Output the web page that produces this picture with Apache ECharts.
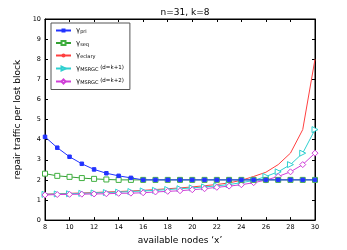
<!DOCTYPE html>
<html><head><meta charset="utf-8">
<script src="https://cdn.jsdelivr.net/npm/echarts@6/dist/echarts.min.js"></script>
<style>html,body{margin:0;padding:0;background:#fff}#c{width:347px;height:250px}</style>
</head><body><div id="c"></div>
<script>
var xs = [8,9,10,11,12,13,14,15,16,17,18,19,20,21,22,23,24,25,26,27,28,29,30];
var pri = [4.14,3.6,3.15,2.8,2.52,2.33,2.2,2.1,2,2,2,2,2,2,2,2,2,2,2,2,2,2,2];
var seq = [2.31,2.2,2.15,2.09,2.05,2.02,2.0,2.0,2,2,2,2,2,2,2,2,2,2,2,2,2,2,2];
var eclary = [1.29,1.31,1.33,1.35,1.37,1.4,1.42,1.45,1.48,1.52,1.56,1.6,1.65,1.71,1.77,1.85,1.98,2.17,2.38,2.76,3.33,4.5,8.0];
var msrgc1 = [1.28,1.3,1.31,1.33,1.35,1.37,1.39,1.42,1.45,1.48,1.52,1.56,1.6,1.65,1.7,1.77,1.86,1.97,2.17,2.4,2.76,3.33,4.5];
var msrgc2 = [1.25,1.27,1.28,1.29,1.3,1.31,1.33,1.34,1.36,1.4,1.43,1.46,1.51,1.56,1.63,1.69,1.76,1.86,1.99,2.17,2.4,2.76,3.33];
var names = ['pri','seq','eclary','msrgc1','msrgc2'];
var labels = {
  pri: '{g|γ}{s|pri}',
  seq: '{g|γ}{s|seq}',
  eclary: '{g|γ}{s|eclary}',
  msrgc1: '{g|γ}{s|MSRGC}{t| (d=k+1)}',
  msrgc2: '{g|γ}{s|MSRGC}{t| (d=k+2)}'
};
function pts(a){ return xs.map(function(x,i){return [x,a[i]];}); }
var font = 'DejaVu Sans';
var chart = echarts.init(document.getElementById('c'));
var axisCommon = {
  axisLine:{show:true,onZero:false,lineStyle:{color:'#000',width:1}},
  axisTick:{show:true,inside:true,length:3,lineStyle:{color:'#000'}},
  splitLine:{show:false}
};
chart.setOption({
  animation:false,
  title:{text:'n=31, k=8',left:180,top:3,textAlign:'center',textStyle:{fontFamily:font,fontSize:9,fontWeight:'normal',color:'#000'}},
  grid:{left:45,right:32,top:19,bottom:28,show:true,borderColor:'#000',borderWidth:1},
  legend:{
    orient:'vertical',left:51,top:23,
    itemWidth:15,itemHeight:5,itemGap:5,
    padding:[4,6,4,4],
    borderColor:'#555',borderWidth:1,backgroundColor:'#fff',
    data:names,
    formatter:function(n){return labels[n];},
    textStyle:{fontFamily:font,fontSize:6,color:'#000',
      rich:{g:{fontSize:7,fontFamily:font},s:{fontSize:5,fontFamily:font,padding:[3,0,0,0]},t:{fontSize:5.5,fontFamily:font,padding:[0,0,2,0]}}}
  },
  xAxis:[Object.assign({type:'value',min:8,max:30,interval:2,position:'bottom',
    name:"available nodes ‘x’",nameLocation:'middle',nameGap:14,
    nameTextStyle:{fontFamily:font,fontSize:9,color:'#000'},
    axisLabel:{fontFamily:font,fontSize:6.5,color:'#000',margin:4}},axisCommon),
    Object.assign({type:'value',min:8,max:30,interval:2,position:'top',axisLabel:{show:false}},axisCommon)],
  yAxis:[Object.assign({type:'value',min:0,max:10,interval:1,position:'left',
    name:'repair traffic per lost block',nameLocation:'middle',nameGap:12,
    nameTextStyle:{fontFamily:font,fontSize:9,color:'#000'},
    axisLabel:{fontFamily:font,fontSize:6.5,color:'#000',margin:4}},axisCommon),
    Object.assign({type:'value',min:0,max:10,interval:1,position:'right',axisLabel:{show:false}},axisCommon)],
  series:[
    {name:'eclary',type:'line',data:pts(eclary),showSymbol:false,symbol:'none',lineStyle:{color:'#ff4040',width:1},itemStyle:{color:'#ff4040'},z:2},
    {name:'msrgc1',type:'line',data:pts(msrgc1),symbol:'triangle',symbolRotate:-90,symbolSize:6,lineStyle:{color:'#30d0d0',width:1},itemStyle:{color:'#fff',borderColor:'#30d0d0',borderWidth:1},z:3},
    {name:'msrgc2',type:'line',data:pts(msrgc2),symbol:'diamond',symbolSize:6,lineStyle:{color:'#d040d8',width:1},itemStyle:{color:'#fff',borderColor:'#d040d8',borderWidth:1},z:4},
    {name:'seq',type:'line',data:pts(seq),symbol:'rect',symbolSize:5,lineStyle:{color:'#33a033',width:1},itemStyle:{color:'#fff',borderColor:'#40b040',borderWidth:1},z:5},
    {name:'pri',type:'line',data:pts(pri),symbol:'rect',symbolSize:3.5,lineStyle:{color:'#2233ff',width:1},itemStyle:{color:'#2233ff',borderColor:'#2233ff'},z:6}
  ]
});
</script></body></html>
